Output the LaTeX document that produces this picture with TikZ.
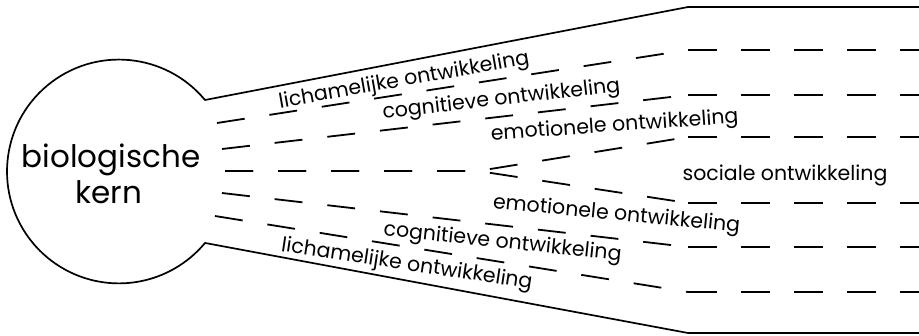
\documentclass[tikz,border=0pt]{standalone}
\usepackage{fontspec}
\setmainfont{Poppins}
\tikzset{
  outline/.style={line width=1.7pt, line join=round},
  dashrow/.style={line width=1.8pt, dash pattern=on 28pt off 25pt},
  strand/.style={inner sep=0pt, anchor=base, font=\fontsize{20.5}{24}\selectfont},
  coretext/.style={inner sep=0pt, anchor=base, font=\fontsize{31}{36}\selectfont}
}
\begin{document}
\begin{tikzpicture}[x=1pt,y=1pt,yscale=-1]
\useasboundingbox (0,0) rectangle (919,335);

% neck of the bulb and the corners where the tube turns straight
\coordinate (neckT) at (205,100);
\coordinate (neckB) at (205,243);
\coordinate (bendT) at (688,7);
\coordinate (bendB) at (688,333);
\coordinate (endT) at (919,7);
\coordinate (endB) at (919,333);

% bulb + tube outline
\draw[outline] (endT) -- (bendT) -- (neckT)
  arc[start angle=-39.7, end angle=-320.3, radius=111.9]
  -- (bendB) -- (endB);

% dashed rows: start at the neck, fan out, then run straight
\coordinate (r1) at (217,123);  \coordinate (s1) at (688,50);   \coordinate (e1) at (919,50);
\coordinate (r2) at (222,149);  \coordinate (s2) at (688,95);   \coordinate (e2) at (919,95);
\coordinate (r3) at (225,171);  \coordinate (fork) at (478,171);
\coordinate (s3) at (688,137);  \coordinate (e3) at (919,137);
\coordinate (s4) at (688,203);  \coordinate (e4) at (919,203);
\coordinate (r5) at (222,193);  \coordinate (s5) at (688,247);  \coordinate (e5) at (919,247);
\coordinate (r6) at (215,216);  \coordinate (s6) at (688,292);  \coordinate (e6) at (919,292);

\draw[dashrow] (r1) -- (s1);
\draw[dashrow] (r2) -- (s2);
\draw[dashrow] (r3) -- (fork) -- (s3);
\draw[dashrow] (r3) -- (fork) -- (s4);
\draw[dashrow] (r5) -- (s5);
\draw[dashrow] (r6) -- (s6);
\foreach \i in {1,2,3,4,5,6}
  \draw[dashrow, dash pattern=on 29pt off 24pt] (s\i) -- (e\i);

% core
\node[coretext] (core) at (111,167) {biologische};
\node[coretext] (kern) at (109,203) {kern};

% strands, upper half
\node[strand, rotate=10] (lichUp) at (405,86) {lichamelijke ontwikkeling};
\node[strand, rotate=6.5] (cognUp) at (502,105) {cognitieve ontwikkeling};
\node[strand, rotate=4] (emoUp) at (615,131.5) {emotionele ontwikkeling};
% middle
\node[strand] (soc) at (785,180) {sociale ontwikkeling};
% strands, lower half
\node[strand, rotate=-5.5] (emoDn) at (616,220) {emotionele ontwikkeling};
\node[strand, rotate=-6] (cognDn) at (502,248) {cognitieve ontwikkeling};
\node[strand, rotate=-8.6] (lichDn) at (406,270) {lichamelijke ontwikkeling};
\end{tikzpicture}
\end{document}
